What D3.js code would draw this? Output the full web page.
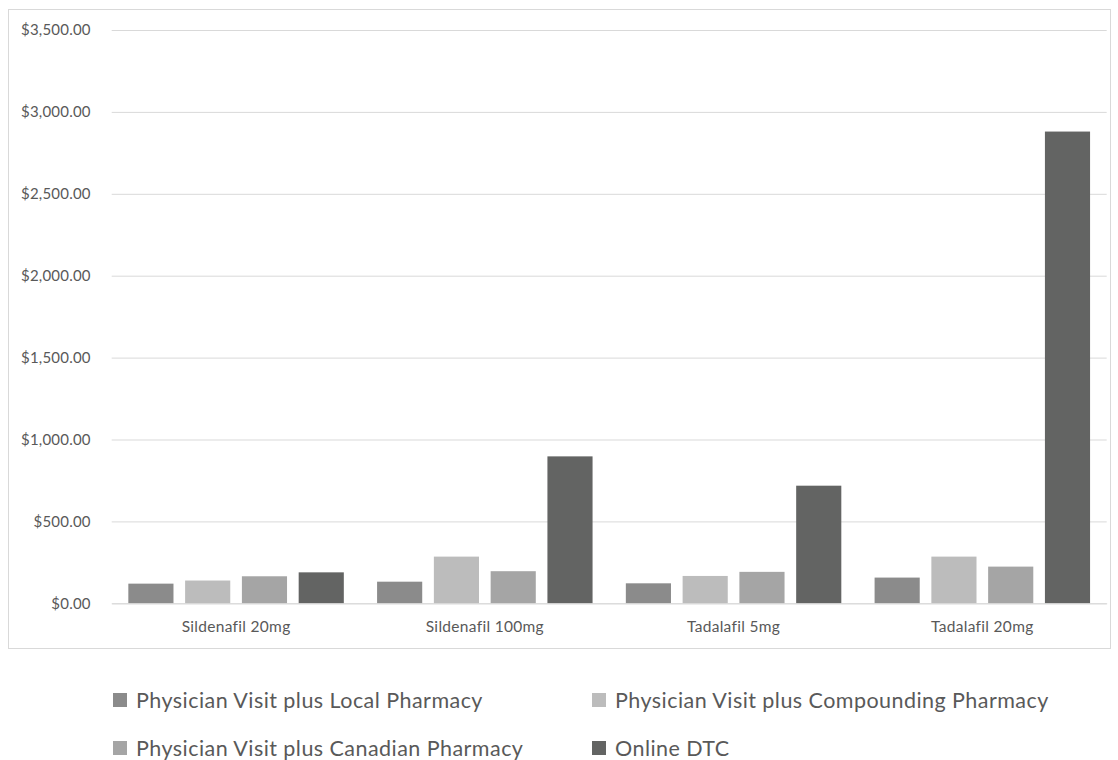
<!DOCTYPE html>
<html>
<head>
<meta charset="utf-8">
<script src="https://cdn.jsdelivr.net/npm/d3@7"></script>
<style>
  html, body { margin: 0; padding: 0; background: #fff; }
  svg { display: block; font-family: Lato, "Open Sans", sans-serif; }
</style>
</head>
<body>
<svg id="chart" width="1118" height="760"></svg>
<script>
// Cost comparison by treatment and purchasing channel
const categories = ["Sildenafil 20mg", "Sildenafil 100mg", "Tadalafil 5mg", "Tadalafil 20mg"];
const seriesNames = [
  "Physician Visit plus Local Pharmacy",
  "Physician Visit plus Compounding Pharmacy",
  "Physician Visit plus Canadian Pharmacy",
  "Online DTC"
];
const localPharmacy = [120, 132, 122, 157];
const compoundingPharmacy = [139, 285, 167, 285];
const canadianPharmacy = [165, 196, 192, 224];
const onlineDTC = [189, 897, 718, 2880];
const yTicks = [0, 500, 1000, 1500, 2000, 2500, 3000, 3500];
const seriesColors = ["#8b8b8b", "#bcbcbc", "#a5a5a5", "#636463"];

const seriesValues = [localPharmacy, compoundingPharmacy, canadianPharmacy, onlineDTC];

const svg = d3.select("#chart");
const plot = { left: 111.7, right: 1106.7, top: 30, bottom: 603.3 };

// outer chart frame
svg.append("rect")
  .attr("x", 8.5).attr("y", 9.5)
  .attr("width", 1102).attr("height", 639)
  .attr("fill", "#fff").attr("stroke", "#d9d9d9").attr("stroke-width", 1);

const y = d3.scaleLinear().domain([0, 3500]).range([plot.bottom, plot.top]);
const x0 = d3.scaleBand().domain(categories).range([plot.left, plot.right]).padding(0);
const x1 = d3.scaleBand().domain(d3.range(seriesNames.length))
  .range([0, x0.bandwidth()]).paddingInner(0.205).paddingOuter(0.293);

const fmt = v => "$" + d3.format(",.2f")(v);

// gridlines + y tick labels
const yAxis = d3.axisLeft(y).tickValues(yTicks)
  .tickSize(-(plot.right - plot.left)).tickPadding(21).tickFormat(fmt);
const gy = svg.append("g").attr("transform", `translate(${plot.left},0)`).call(yAxis);
gy.select(".domain").remove();
gy.selectAll(".tick line").attr("stroke", "#d9d9d9").attr("stroke-width", 1);
gy.selectAll(".tick text").attr("fill", "#595959").attr("font-size", 15)
  .attr("letter-spacing", 0.2).attr("font-family", "Lato, sans-serif");

// bars
const groups = svg.append("g").selectAll("g")
  .data(categories).join("g")
  .attr("transform", d => `translate(${x0(d)},0)`);

groups.selectAll("rect")
  .data((d, ci) => seriesValues.map((vals, si) => ({ si, v: vals[ci] })))
  .join("rect")
  .attr("x", d => x1(d.si))
  .attr("width", x1.bandwidth())
  .attr("y", d => y(d.v))
  .attr("height", d => y(0) - y(d.v))
  .attr("fill", d => seriesColors[d.si]);

// category axis
const xAxis = d3.axisBottom(x0).tickSize(0).tickPadding(18);
const gx = svg.append("g").attr("transform", `translate(0,${plot.bottom})`).call(xAxis);
gx.select(".domain").attr("stroke", "#d9d9d9");
gx.selectAll(".tick text").attr("fill", "#595959").attr("font-size", 15.5)
  .attr("letter-spacing", 0.3).attr("font-family", "Lato, sans-serif");

// legend
const legendPos = [
  { x: 113, y: 700 }, { x: 592, y: 700 },
  { x: 113, y: 748 }, { x: 592, y: 748 }
];
const legend = svg.append("g").selectAll("g")
  .data(seriesNames).join("g")
  .attr("transform", (d, i) => `translate(${legendPos[i].x},${legendPos[i].y})`);
legend.append("rect")
  .attr("x", 0).attr("y", -7).attr("width", 14).attr("height", 14)
  .attr("fill", (d, i) => seriesColors[i]);
legend.append("text")
  .attr("x", 23).attr("y", 0).attr("dy", "0.35em")
  .attr("fill", "#595959").attr("font-size", 21.5).attr("letter-spacing", 0.45)
  .text(d => d);
</script>
</body>
</html>
